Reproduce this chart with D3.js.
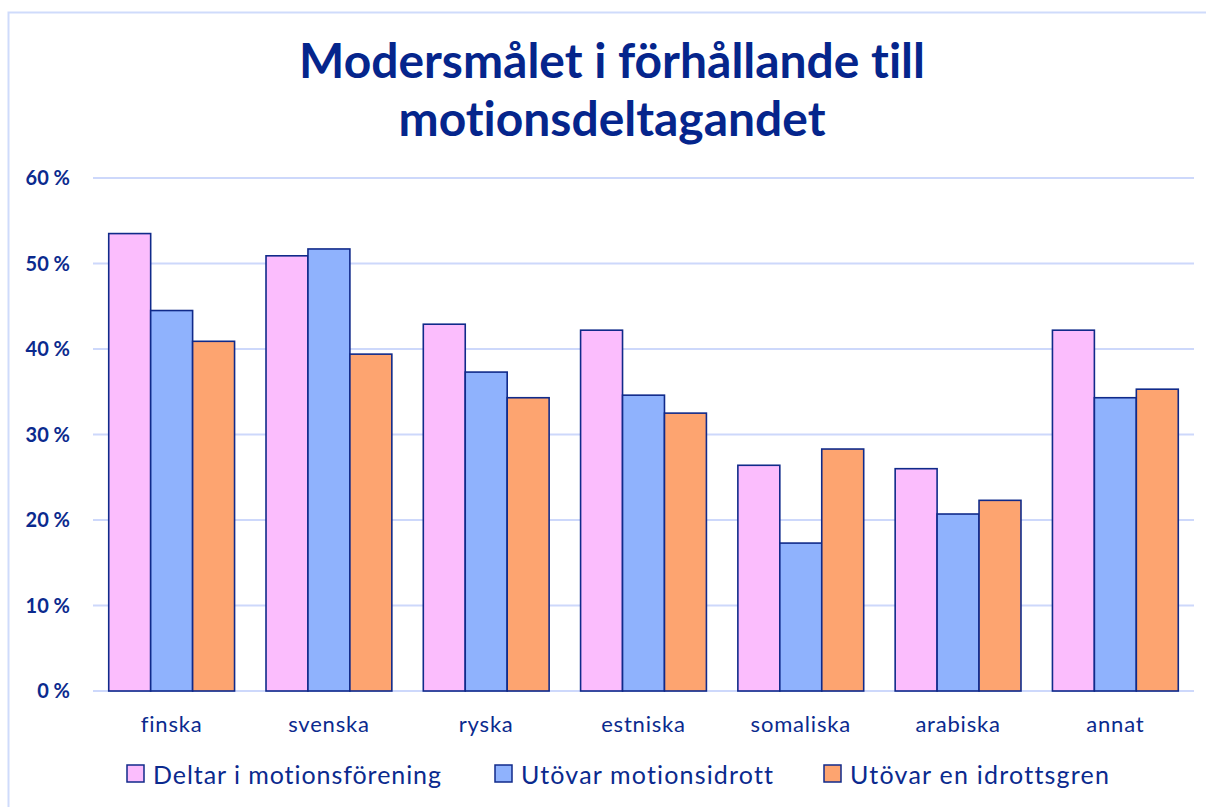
<!DOCTYPE html>
<html><head><meta charset="utf-8">
<script src="https://cdn.jsdelivr.net/npm/d3@7"></script>
<style>body{margin:0;background:#fff}svg{display:block}text{font-family:Lato,"Open Sans",sans-serif;font-variant-ligatures:none}</style>
</head><body><svg id="c" width="1206" height="807"></svg>
<script>
const categories = ["finska","svenska","ryska","estniska","somaliska","arabiska","annat"];
const seriesNames = ["Deltar i motionsförening","Utövar motionsidrott","Utövar en idrottsgren"];
const deltar = [53.5,50.9,42.9,42.2,26.4,26.0,42.2];
const utovarMotion = [44.5,51.7,37.3,34.6,17.3,20.7,34.3];
const utovarIdrott = [40.9,39.4,34.3,32.5,28.3,22.3,35.3];
const yTicks = [0,10,20,30,40,50,60];
const tickLabels = ["0 %","10 %","20 %","30 %","40 %","50 %","60 %"];
const colors = ["#fbbdfd","#8fb2fd","#fda470"];
const series = [deltar, utovarMotion, utovarIdrott];

const svg = d3.select("#c");
const navy = "#0b2a8e";
svg.append("rect").attr("x",8.5).attr("y",12.5).attr("width",1300).attr("height",1000)
  .attr("fill","none").attr("stroke","#cfdbfb").attr("stroke-width",2);

const x0 = d3.scaleBand().domain(categories).range([93,1194]).paddingInner(0.2).paddingOuter(0.1);
const x1 = d3.scaleBand().domain([0,1,2]).range([0,x0.bandwidth()]);
const y = d3.scaleLinear().domain([0,60]).range([691,178]);

svg.append("g").selectAll("line").data(yTicks).join("line")
  .attr("x1",93).attr("x2",1194).attr("y1",d=>y(d)).attr("y2",d=>y(d))
  .attr("stroke","#cdd8fb").attr("stroke-width",2);

svg.append("g").selectAll("text").data(yTicks).join("text")
  .attr("x",70).attr("y",d=>y(d)+7).attr("text-anchor","end")
  .attr("font-size",20).attr("font-weight","bold").attr("fill",navy)
  .text((d,i)=>tickLabels[i]);

const g = svg.append("g");
categories.forEach((c,ci)=>{
  series.forEach((s,si)=>{
    g.append("rect").attr("x",x0(c)+x1(si)).attr("y",y(s[ci]))
      .attr("width",x1.bandwidth()).attr("height",y(0)-y(s[ci]))
      .attr("fill",colors[si]).attr("stroke","#102a8a").attr("stroke-width",1.6);
  });
});

svg.append("g").selectAll("text").data(categories).join("text")
  .attr("x",d=>x0(d)+x0.bandwidth()/2).attr("y",732).attr("text-anchor","middle")
  .attr("font-size",22).attr("letter-spacing",0.8).attr("fill",navy).text(d=>d);

const t1 = svg.append("text").attr("x",612).attr("y",78).attr("text-anchor","middle")
  .attr("font-size",42).attr("font-weight","bold").attr("fill","#05258c").text("Modersmålet i förhållande till");
const t2 = svg.append("text").attr("x",612).attr("y",136).attr("text-anchor","middle")
  .attr("font-size",42).attr("font-weight","bold").attr("fill","#05258c").text("motionsdeltagandet");
function fit(sel, target){ const w = sel.node().getComputedTextLength(); const fs=+sel.attr("font-size"); sel.attr("font-size", fs*target/w); }
fit(t1, 626);
t2.attr("font-size", t1.attr("font-size"));

const legX = [127,495,824];
const legW = [288,252,259];
const lg = svg.append("g");
seriesNames.forEach((n,i)=>{
  lg.append("rect").attr("x",legX[i]).attr("y",765).attr("width",17).attr("height",17)
    .attr("fill",colors[i]).attr("stroke","#102a8a").attr("stroke-width",1.5);
  lg.append("text").attr("x",legX[i]+26).attr("y",784).attr("font-size",25).attr("fill",navy)
    .attr("textLength",legW[i]).attr("lengthAdjust","spacing").text(n);
});
</script></body></html>
